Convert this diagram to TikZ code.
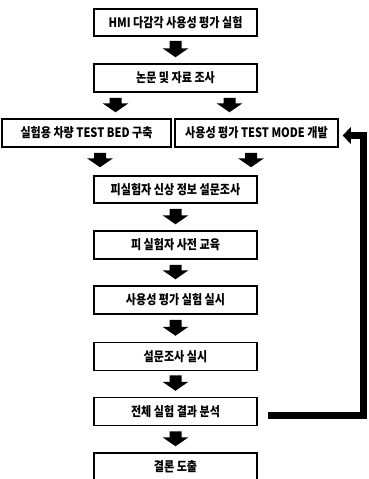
\documentclass[tikz,border=0pt]{standalone}
\usepackage{fontspec}
\newfontfamily\kr[FakeStretch=0.85]{Noto Sans CJK KR}
\usetikzlibrary{arrows.meta,calc}
\begin{document}
\begin{tikzpicture}[x=1pt,y=-1pt,
  box/.style={draw=black,line width=1.5pt,fill=white,minimum width=163pt,minimum height=28pt,inner sep=0pt,font=\kr\bfseries\fontsize{13}{15}\selectfont},
  blockarrow/.style={fill=black,to path={
    let \p1=(\tikztostart), \p2=(\tikztotarget) in
    (\x1-6pt,\y1) -- (\x1+6pt,\y1) -- (\x1+6pt,\y2+9pt) -- (\x1+13pt,\y2+9pt)
    -- (\x1,\y2) -- (\x1-13pt,\y2+9pt) -- (\x1-6pt,\y2+9pt) -- cycle}},
  fb/.style={line width=7pt,line join=miter,-{Triangle[width=17pt,length=8pt,line width=0pt]}}]
\useasboundingbox (0,0) rectangle (368,479);
\clip (0,0) rectangle (368,479);
\node[box,minimum height=27pt] (b1) at (175.5,22.5) {HMI 다감각 사용성 평가 실험};
\node[box] (b2) at (175.5,78) {논문 및 자료 조사};
\node[box,minimum width=169pt] (b3l) at (86.5,133) {실험용 차량 TEST BED 구축};
\node[box] (b3r) at (256.5,133) {사용성 평가 TEST MODE 개발};
\node[box,minimum height=27pt] (b4) at (175.5,189.5) {피실험자 신상 정보 설문조사};
\node[box] (b5) at (175.5,245) {피 실험자 사전 교육};
\node[box] (b6) at (175.5,300) {사용성 평가 실험 실시};
\node[box] (b7) at (175.5,356.5) {설문조사 실시};
\node[box] (b8) at (175.5,411.5) {전체 실험 결과 분석};
\node[box] (b9) at (175.5,467) {결론 도출};
% block arrows
\path[blockarrow] ([yshift=-4]b1.south) to ([yshift=6]b2.north);
\path[blockarrow] ([xshift=-60,yshift=-5]b2.south) to ([xshift=29,yshift=6]b3l.north);
\path[blockarrow] ([xshift=54,yshift=-5]b2.south) to ([xshift=-27,yshift=6]b3r.north);
\path[blockarrow] ([xshift=13.5,yshift=-5]b3l.south) to ([xshift=-75.5,yshift=8]b4.north);
\path[blockarrow] ([xshift=-5.5,yshift=-5]b3r.south) to ([xshift=75.5,yshift=8]b4.north);
\path[blockarrow] ([yshift=-5]b4.south) to ([yshift=6]b5.north);
\path[blockarrow] ([yshift=-5]b5.south) to ([yshift=6]b6.north);
\path[blockarrow] ([yshift=-5]b6.south) to ([yshift=6]b7.north);
\path[blockarrow] ([yshift=-4]b7.south) to ([yshift=6]b8.north);
\path[blockarrow] ([yshift=-5]b8.south) to ([yshift=6]b9.north);
% feedback
\coordinate (fbs) at ([xshift=10,yshift=-3.5]b8.east);
\coordinate (fbe) at ([xshift=4,yshift=-2.5]b3r.east);
\coordinate (fbc) at (363.5,0);
\draw[fb] (fbs) -| (fbc |- fbe) -- (fbe);
\end{tikzpicture}
\end{document}
